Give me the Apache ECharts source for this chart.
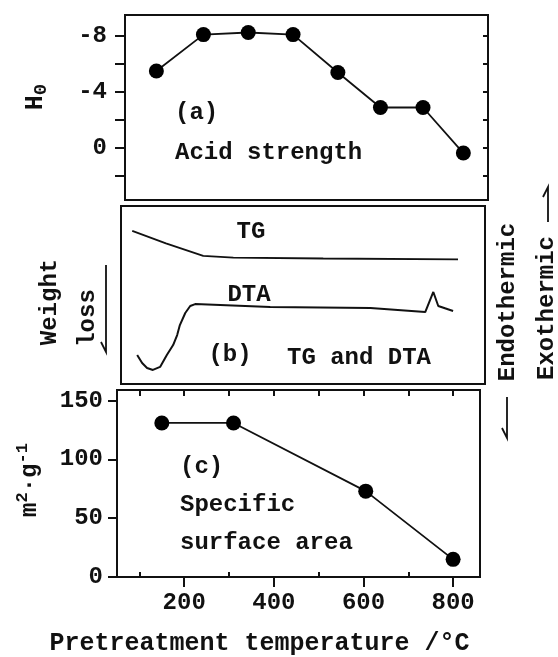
<!DOCTYPE html>
<html>
<head>
<meta charset="utf-8">
<script src="https://cdn.jsdelivr.net/npm/echarts@6/dist/echarts.min.js"></script>
<style>
  html, body { margin: 0; padding: 0; background: #fff; }
  #chart { width: 558px; height: 657px; }
</style>
</head>
<body>
<div id="chart"></div>
<script>
// (a) acid strength
var tempA = [120, 225, 325, 425, 525, 620, 715, 805];
var h0 = [-5.5, -8.1, -8.25, -8.1, -5.4, -2.9, -2.9, 0.35];

// (b) TG and DTA traces (arbitrary units)
var tgTemp = [75, 150, 233, 300, 500, 800];
var tgVal = [86, 79, 72, 71, 70.5, 70];
var dtaTemp = [86, 97, 108, 121, 137, 152, 166, 175, 181, 193, 204, 215, 382, 493, 605, 727, 745, 756, 789];
var dtaVal = [16.3, 11.8, 9, 7.9, 9.6, 16.3, 21.9, 27.5, 33.1, 39.9, 43.8, 44.9, 43.3, 43, 42.7, 40.4, 51.7, 43.8, 41];

// (c) specific surface area
var tempC = [150, 310, 605, 800];
var area = [131, 131, 73, 15];

// ticks
var h0Ticks = [-8, -6, -4, -2, 0, 2];
var h0Labels = [-8, -4, 0];
var areaTicks = [0, 50, 100, 150];
var tempMajor = [200, 400, 600, 800];
var tempMinor = [100, 300, 500, 700];

var FONT = 'Liberation Mono';
var INK = '#111';

function pairs(xs, ys) {
    return xs.map(function (x, i) { return [x, ys[i]]; });
}

function font(size) {
    return 'bold ' + size + 'px "' + FONT + '"';
}

var el = document.getElementById('chart');
var myChart = echarts.init(el);

var axisLine = { show: true, onZero: false, lineStyle: { color: INK, width: 2 } };
var labelStyle = { color: INK, fontFamily: FONT, fontSize: 24, fontWeight: 'bold' };
var noAxis = {
    min: 50, max: 860, type: 'value',
    axisLine: axisLine, axisTick: { show: false }, axisLabel: { show: false }, splitLine: { show: false }
};

function arrow(x, y1, y2, up) {
    // vertical line with a half barb at one end
    var tip = up ? y1 : y2;
    var d = up ? 10 : -10;
    return {
        type: 'polyline',
        shape: { points: [[x, up ? y2 : y1], [x, tip], [x - 5, tip + d]] },
        style: { stroke: INK, lineWidth: 1.8, fill: null }
    };
}

function txt(x, y, s, opts) {
    opts = opts || {};
    var style = {
        text: s,
        font: font(opts.size || 24),
        fill: INK,
        align: opts.align || 'left',
        verticalAlign: 'middle'
    };
    if (opts.rich) {
        style.rich = opts.rich;
    }
    return { type: 'text', x: x, y: y, rotation: opts.rot || 0, style: style };
}

var richH = {
    h: { font: font(25), lineHeight: 30, fill: INK },
    s: { font: font(19), lineHeight: 19, verticalAlign: 'bottom', fill: INK }
};
var richArea = {
    b: { font: font(24), lineHeight: 32, fill: INK },
    p: { font: font(17), lineHeight: 17, verticalAlign: 'top', fill: INK }
};

var option = {
    animation: false,
    backgroundColor: '#fff',
    grid: [
        { left: 125, top: 15, width: 363, height: 185, show: true, borderColor: INK, borderWidth: 2 },
        { left: 121, top: 206, width: 364, height: 178, show: true, borderColor: INK, borderWidth: 2 },
        { left: 117, top: 390, width: 363, height: 189, show: true, borderColor: INK, borderWidth: 2 }
    ],
    xAxis: [
        Object.assign({}, noAxis, { gridIndex: 0 }),
        Object.assign({}, noAxis, { gridIndex: 1 }),
        {
            gridIndex: 2, type: 'value', min: 50, max: 860,
            axisLine: axisLine,
            axisTick: { show: true, length: 10, customValues: tempMajor, lineStyle: { color: INK, width: 2 } },
            axisLabel: Object.assign({ customValues: tempMajor, margin: 14 }, labelStyle),
            splitLine: { show: false },
            name: 'Pretreatment temperature /°C',
            nameLocation: 'middle',
            nameGap: 54,
            nameTextStyle: Object.assign({}, labelStyle, { fontSize: 25, padding: [0, 78, 0, 0] })
        },
        {
            gridIndex: 2, type: 'value', min: 50, max: 860,
            axisLine: { show: false },
            axisTick: { show: true, length: 5, customValues: tempMinor, lineStyle: { color: INK, width: 2 } },
            axisLabel: { show: false }, splitLine: { show: false }
        },
        {
            gridIndex: 2, type: 'value', min: 50, max: 860,
            axisLine: { show: false },
            axisTick: { show: true, inside: true, length: 6, customValues: tempMajor.concat(tempMinor), lineStyle: { color: INK, width: 2 } },
            axisLabel: { show: false }, splitLine: { show: false }
        }
    ],
    yAxis: [
        {
            gridIndex: 0, type: 'value', inverse: true, min: -9.5, max: 3.7,
            axisLine: axisLine,
            axisTick: { show: true, length: 10, customValues: h0Ticks, lineStyle: { color: INK, width: 2 } },
            axisLabel: Object.assign({ customValues: h0Labels, margin: 18 }, labelStyle),
            splitLine: { show: false }
        },
        {
            gridIndex: 0, type: 'value', inverse: true, min: -9.5, max: 3.7,
            axisLine: { show: false },
            axisTick: { show: true, inside: true, length: 5, customValues: h0Ticks, lineStyle: { color: INK, width: 2 } },
            axisLabel: { show: false }, splitLine: { show: false }
        },
        {
            gridIndex: 1, type: 'value', min: 0, max: 100,
            axisLine: axisLine, axisTick: { show: false }, axisLabel: { show: false }, splitLine: { show: false }
        },
        {
            gridIndex: 2, type: 'value', min: 0, max: 159,
            axisLine: axisLine,
            axisTick: { show: true, length: 9, customValues: areaTicks, lineStyle: { color: INK, width: 2 } },
            axisLabel: Object.assign({ customValues: areaTicks, margin: 14 }, labelStyle),
            splitLine: { show: false }
        }
    ],
    series: [
        {
            type: 'line', xAxisIndex: 0, yAxisIndex: 0,
            data: pairs(tempA, h0),
            symbol: 'circle', symbolSize: 15,
            itemStyle: { color: '#000' },
            lineStyle: { color: INK, width: 1.8 }
        },
        {
            type: 'line', xAxisIndex: 1, yAxisIndex: 2,
            data: pairs(tgTemp, tgVal),
            showSymbol: false,
            lineStyle: { color: INK, width: 1.8 }
        },
        {
            type: 'line', xAxisIndex: 1, yAxisIndex: 2,
            data: pairs(dtaTemp, dtaVal),
            showSymbol: false,
            lineStyle: { color: INK, width: 2 }
        },
        {
            type: 'line', xAxisIndex: 2, yAxisIndex: 3,
            data: pairs(tempC, area),
            symbol: 'circle', symbolSize: 15,
            itemStyle: { color: '#000' },
            lineStyle: { color: INK, width: 1.8 }
        }
    ],
    graphic: [
        txt(36, 97, '{h|H}{s|0}', { align: 'center', rot: Math.PI / 2, rich: richH }),
        txt(30, 480, '{b|m}{p|2}{b|·g}{p|-1}', { align: 'center', rot: Math.PI / 2, rich: richArea }),
        txt(175, 113, '(a)'),
        txt(175, 153, 'Acid strength'),
        txt(251, 232, 'TG', { align: 'center' }),
        txt(249, 295, 'DTA', { align: 'center' }),
        txt(230, 355, '(b)', { align: 'center' }),
        txt(287, 358, 'TG and DTA'),
        txt(180, 467, '(c)'),
        txt(180, 505, 'Specific'),
        txt(180, 543, 'surface area'),
        txt(50, 302, 'Weight', { align: 'center', rot: Math.PI / 2 }),
        txt(88, 318, 'loss', { align: 'center', rot: Math.PI / 2 }),
        arrow(106, 265, 352, false),
        txt(508, 302, 'Endothermic', { align: 'center', rot: Math.PI / 2 }),
        arrow(507, 397, 438, false),
        txt(547, 308, 'Exothermic', { align: 'center', rot: Math.PI / 2 }),
        arrow(548, 187, 222, true)
    ]
};

myChart.setOption(option);
</script>
</body>
</html>
